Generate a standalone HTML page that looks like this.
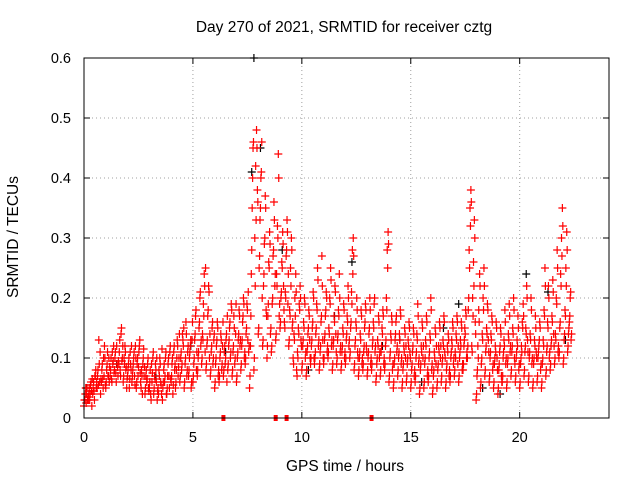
<!DOCTYPE html>
<html><head><meta charset="utf-8"><style>
body{margin:0;background:#fff}
svg{display:block;font-family:"Liberation Sans",sans-serif}
</style></head><body>
<svg id="chart" width="640" height="480" viewBox="0 0 640 480" xmlns="http://www.w3.org/2000/svg">
<rect width="640" height="480" fill="#fff"/>
<text x="344" y="32" font-size="15.5" text-anchor="middle">Day 270 of 2021, SRMTID for receiver cztg</text>
<text x="345" y="471" font-size="15.5" text-anchor="middle">GPS time / hours</text>
<text x="18" y="237" font-size="15.5" text-anchor="middle" transform="rotate(-90 18 237)">SRMTID / TECUs</text>
<g id="grid"></g><g id="marks"></g><g id="axes"></g>
</svg>
<script>
const xTicks=[0,5,10,15,20];
const yTicks=[0,0.1,0.2,0.3,0.4,0.5,0.6];
const yTickLabels=["0","0.1","0.2","0.3","0.4","0.5","0.6"];
const hours=[0.0,0.2,0.4,0.6,0.8,1.0,1.2,1.4,1.6,1.8,2.0,2.2,2.4,2.6,2.8,3.0,3.2,3.4,3.6,3.8,4.0,4.2,4.4,4.6,4.8,5.0,5.2,5.4,5.6,5.8,6.0,6.2,6.4,6.6,6.8,7.0,7.2,7.4,7.6,7.8,8.0,8.2,8.4,8.6,8.8,9.0,9.2,9.4,9.6,9.8,10.0,10.2,10.4,10.6,10.8,11.0,11.2,11.4,11.6,11.8,12.0,12.2,12.4,12.6,12.8,13.0,13.2,13.4,13.6,13.8,14.0,14.2,14.4,14.6,14.8,15.0,15.2,15.4,15.6,15.8,16.0,16.2,16.4,16.6,16.8,17.0,17.2,17.4,17.6,17.8,18.0,18.2,18.4,18.6,18.8,19.0,19.2,19.4,19.6,19.8,20.0,20.2,20.4,20.6,20.8,21.0,21.2,21.4,21.6,21.8,22.0,22.2];
const redValues=[
[.02,.03,.05,.04,.03],[.03,.05,.04,.06,.02],[.04,.06,.03,.07,.05],[.05,.08,.13,.06,.04],[.06,.09,.05,.07,.10],
[.05,.08,.11,.07,.06],[.07,.10,.06,.09,.12],[.08,.11,.06,.09,.07],[.09,.13,.07,.15,.10],[.06,.10,.12,.08,.05],
[.07,.09,.05,.11,.08],[.06,.08,.10,.07,.12],[.05,.09,.07,.11,.13],[.06,.08,.04,.10,.07],[.04,.07,.06,.09,.05],
[.05,.08,.03,.06,.10],[.04,.07,.09,.06,.03],[.05,.08,.10,.06,.04],[.03,.06,.09,.07,.11],[.04,.07,.10,.05,.12],
[.06,.09,.04,.11,.08],[.05,.08,.13,.07,.10],[.06,.10,.08,.14,.12],[.05,.09,.16,.07,.11],[.07,.10,.12,.05,.13],
[.06,.09,.13,.17,.08],[.07,.10,.15,.20,.12],[.09,.14,.19,.24,.11],[.08,.12,.17,.22,.10],[.07,.11,.15,.09,.13],
[.05,.09,.12,.16,.07],[.06,.10,.14,.08,.12],[.07,.11,.09,.13,.06],[.08,.12,.15,.10,.19],[.07,.11,.17,.09,.14],
[.06,.10,.13,.18,.12],[.08,.12,.16,.20,.10],[.09,.14,.19,.13,.11],[.05,.12,.24,.35,.45],[.08,.30,.42,.48,.38],
[.14,.25,.33,.40,.46],[.12,.22,.29,.37,.18],[.10,.17,.26,.31,.14],[.11,.19,.27,.36,.22],[.13,.24,.32,.44,.17],
[.15,.20,.26,.31,.22],[.16,.21,.27,.33,.19],[.12,.18,.25,.30,.15],[.10,.14,.20,.24,.08],[.11,.15,.19,.22,.13],
[.08,.12,.16,.20,.10],[.07,.11,.14,.18,.13],[.09,.12,.15,.21,.10],[.10,.14,.19,.25,.12],[.08,.11,.16,.27,.13],
[.09,.13,.17,.21,.11],[.10,.15,.20,.25,.12],[.08,.12,.17,.22,.14],[.09,.13,.18,.24,.11],[.08,.11,.15,.19,.10],
[.09,.13,.17,.22,.12],[.10,.15,.21,.28,.30],[.08,.12,.16,.20,.11],[.07,.10,.14,.18,.09],[.08,.11,.15,.19,.12],
[.07,.10,.14,.20,.09],[.08,.12,.16,.19,.11],[.06,.09,.13,.17,.10],[.07,.11,.15,.18,.09],[.08,.12,.20,.28,.31],
[.06,.10,.14,.17,.08],[.05,.09,.13,.16,.11],[.07,.10,.14,.18,.09],[.05,.08,.12,.15,.10],[.06,.09,.13,.16,.11],
[.05,.08,.11,.15,.07],[.06,.10,.14,.19,.09],[.04,.08,.12,.16,.10],[.05,.09,.13,.17,.07],[.06,.10,.14,.20,.08],
[.04,.07,.11,.15,.09],[.05,.08,.12,.16,.10],[.06,.09,.13,.17,.11],[.05,.08,.12,.14,.07],[.06,.10,.13,.16,.09],
[.07,.11,.14,.17,.09],[.06,.10,.13,.16,.08],[.08,.12,.15,.18,.10],[.10,.18,.28,.35,.38],[.12,.20,.26,.33,.16],
[.03,.07,.12,.18,.24],[.05,.09,.14,.20,.25],[.07,.11,.15,.19,.13],[.06,.10,.14,.17,.08],[.05,.09,.12,.16,.10],
[.04,.08,.11,.15,.07],[.06,.10,.13,.18,.09],[.05,.09,.14,.19,.11],[.07,.11,.15,.20,.10],[.06,.10,.13,.17,.08],
[.05,.09,.12,.16,.19],[.07,.11,.15,.22,.13],[.06,.10,.14,.20,.09],[.05,.09,.13,.17,.11],[.06,.10,.12,.16,.08],
[.05,.09,.13,.18,.25],[.07,.11,.16,.22,.10],[.08,.12,.17,.23,.14],[.09,.14,.20,.28,.11],[.10,.15,.24,.30,.35],
[.09,.13,.18,.25,.31],[.11,.14,.16,.20,.13]];
const redValuesB=[
[.03,.04,.025,.05,.035],[.04,.03,.055,.045,.065],[.05,.045,.07,.08,.06],[.07,.055,.09,.11,.065],[.08,.065,.1,.12,.055],
[.06,.09,.07,.1,.085],[.08,.065,.11,.095,.075],[.1,.075,.12,.085,.095],[.11,.08,.14,.095,.12],[.07,.09,.11,.085,.065],
[.08,.1,.065,.09,.12],[.07,.09,.11,.055,.1],[.06,.1,.085,.12,.075],[.05,.07,.09,.115,.085],[.05,.08,.065,.1,.045],
[.06,.04,.09,.075,.11],[.05,.065,.08,.1,.045],[.04,.07,.09,.055,.115],[.05,.08,.06,.1,.04],[.05,.09,.07,.11,.065],
[.07,.1,.055,.12,.09],[.06,.1,.12,.085,.14],[.07,.11,.09,.13,.15],[.06,.1,.14,.08,.12],[.08,.11,.13,.06,.16],
[.07,.1,.14,.18,.11],[.08,.11,.16,.21,.13],[.1,.13,.17,.22,.25],[.09,.13,.18,.21,.14],[.08,.12,.16,.1,.14],
[.06,.1,.13,.15,.08],[.07,.11,.13,.09,.16],[.08,.12,.1,.14,.17],[.09,.13,.16,.11,.18],[.08,.12,.15,.1,.19],
[.07,.11,.14,.17,.13],[.09,.13,.17,.19,.11],[.1,.15,.18,.21,.12],[.07,.17,.28,.4,.46],[.1,.22,.33,.45,.36],
[.15,.27,.35,.41,.2],[.13,.24,.3,.35,.17],[.12,.19,.25,.29,.15],[.12,.2,.28,.33,.24],[.14,.22,.3,.4,.19],
[.16,.21,.25,.29,.18],[.15,.2,.28,.31,.24],[.13,.17,.22,.28,.16],[.09,.13,.17,.21,.07],[.1,.14,.18,.2,.12],
[.09,.13,.15,.19,.11],[.08,.12,.15,.17,.1],[.1,.13,.16,.2,.09],[.11,.15,.18,.23,.13],[.09,.12,.17,.22,.1],
[.1,.14,.18,.2,.12],[.11,.14,.19,.23,.13],[.09,.13,.16,.21,.11],[.1,.14,.17,.2,.12],[.09,.12,.14,.18,.11],
[.1,.14,.16,.2,.13],[.11,.16,.19,.24,.27],[.09,.13,.15,.18,.1],[.08,.11,.13,.17,.1],[.09,.12,.16,.18,.11],
[.08,.11,.15,.18,.1],[.09,.13,.15,.2,.12],[.07,.1,.12,.16,.11],[.08,.12,.14,.17,.1],[.09,.13,.18,.25,.29],
[.07,.11,.13,.16,.09],[.06,.1,.14,.17,.12],[.08,.11,.13,.17,.1],[.06,.09,.11,.14,.12],[.07,.1,.12,.15,.1],
[.06,.09,.12,.14,.08],[.07,.11,.13,.17,.1],[.05,.09,.11,.15,.12],[.06,.1,.12,.16,.08],[.07,.11,.13,.18,.09],
[.05,.08,.1,.14,.12],[.06,.09,.11,.15,.12],[.07,.1,.12,.16,.1],[.06,.09,.11,.13,.08],[.07,.11,.12,.15,.1],
[.08,.1,.13,.16,.12],[.07,.11,.12,.15,.09],[.09,.13,.14,.17,.11],[.12,.2,.25,.32,.36],[.11,.17,.22,.3,.14],
[.04,.08,.1,.16,.22],[.06,.1,.13,.18,.22],[.08,.12,.14,.18,.11],[.07,.11,.13,.16,.09],[.06,.1,.11,.15,.08],
[.05,.09,.12,.14,.06],[.07,.11,.12,.16,.1],[.06,.1,.13,.17,.12],[.08,.12,.14,.18,.09],[.07,.11,.12,.15,.09],
[.06,.1,.11,.15,.17],[.08,.12,.14,.2,.11],[.07,.11,.13,.18,.1],[.06,.1,.12,.15,.1],[.07,.11,.13,.15,.09],
[.06,.1,.12,.17,.22],[.08,.12,.15,.2,.11],[.09,.13,.16,.21,.12],[.1,.13,.19,.25,.12],[.11,.16,.22,.27,.32],
[.1,.14,.17,.22,.28],[.12,.15,.17,.21,.14]];
const blackHours=[0.1,1.5,3.3,4.9,6.5,7.7,7.8,8.1,9.1,10.3,11.5,12.3,13.7,14.5,15.5,16.5,17.2,18.3,19.1,20.3,21.3,22.1];
const blackValues=[0.05,0.09,0.07,0.12,0.11,0.41,0.6,0.45,0.28,0.08,0.17,0.26,0.12,0.13,0.06,0.15,0.19,0.05,0.04,0.24,0.21,0.13];
const gapHours=[6.4,8.8,9.3,13.2];
const L=84,R=609,T=58,B=418,XMAX=24.1,YMAX=0.6;
const sx=v=>L+(R-L)*v/XMAX, sy=v=>B-(B-T)*v/YMAX;
const NS="http://www.w3.org/2000/svg";
function mk(tag,attrs,parent){const e=document.createElementNS(NS,tag);for(const k in attrs)e.setAttribute(k,attrs[k]);parent.appendChild(e);return e;}
const grid=document.getElementById('grid'),marks=document.getElementById('marks'),axes=document.getElementById('axes');
yTicks.forEach((v,i)=>{
 if(v>0&&v<YMAX){const g=mk('line',{x1:L,x2:R,y1:sy(v),y2:sy(v),stroke:'#a0a0a0','stroke-dasharray':'1,3'},grid);
 
 }
 const t=mk('text',{x:L-13,y:sy(v)+5,'font-size':14.5,'text-anchor':'end'},axes);t.textContent=yTickLabels[i];
 
 
 mk('line',{x1:L,x2:L+6,y1:sy(v),y2:sy(v),stroke:'#000'},axes);
 mk('line',{x1:R,x2:R-6,y1:sy(v),y2:sy(v),stroke:'#000'},axes);
});
xTicks.forEach(v=>{
 if(v>0){const g=mk('line',{x1:sx(v),x2:sx(v),y1:T,y2:B,stroke:'#a0a0a0','stroke-dasharray':'1,3'},grid);
 
 }
 const t=mk('text',{x:sx(v),y:B+24,'font-size':14.5,'text-anchor':'middle'},axes);t.textContent=String(v);
 
 
 mk('line',{x1:sx(v),x2:sx(v),y1:B,y2:B-6,stroke:'#000'},axes);
 mk('line',{x1:sx(v),x2:sx(v),y1:T,y2:T+6,stroke:'#000'},axes);
});
const frame=mk('rect',{x:L,y:T,width:R-L,height:B-T,fill:'none',stroke:'#000'},axes);


function plus(x,y,c,name){const p=mk('path',{d:`M${x-4} ${y}h8M${x} ${y-4}v8`,stroke:c,'stroke-width':1.2},marks);
 
 }
blackHours.forEach((h,i)=>plus(sx(h),sy(blackValues[i]),'#000','black-point'));
hours.forEach((h,i)=>redValues[i].forEach((v,j)=>plus(sx(h+j*0.04),sy(v),'#ff0000','red-point')));
hours.forEach((h,i)=>redValuesB[i].forEach((v,j)=>plus(sx(h+0.02+j*0.04),sy(v),'#ff0000','red-point')));
gapHours.forEach(h=>{const r=mk('rect',{x:sx(h)-2,y:B-3,width:4,height:6,fill:'#ff0000'},marks);
 
 });
</script>
</body></html>
